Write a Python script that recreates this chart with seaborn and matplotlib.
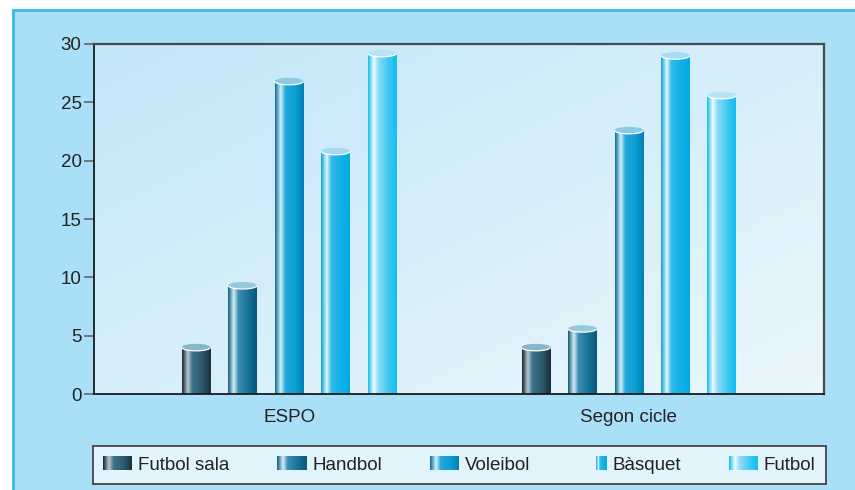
import numpy as np
import pandas as pd
import matplotlib.pyplot as plt
import seaborn as sns
from matplotlib.colors import LinearSegmentedColormap
from matplotlib.patches import Ellipse, Arc, Rectangle, Patch
from matplotlib.legend_handler import HandlerBase

# Dades
grups = ['ESPO', 'Segon cicle']
esports = ['Futbol sala', 'Handbol', 'Voleibol', 'Bàsquet', 'Futbol']
espo = [4.0, 9.3, 26.8, 20.8, 29.2]
segon = [4.0, 5.6, 22.6, 29.0, 25.6]
yticks = [0, 5, 10, 15, 20, 25, 30]

df = pd.DataFrame({
    'grup': np.repeat(grups, len(esports)),
    'esport': esports * len(grups),
    'valor': espo + segon,
})

# gradients (estil del cilindre)
stops = [0.0, 0.2, 0.36, 0.7, 1.0]
gradients = [
    ['#16202a', '#b2cad2', '#3c7189', '#2b596d', '#1b2f3b'],
    ['#0b5a7b', '#d8eef5', '#3a8db0', '#16739a', '#0a5676'],
    ['#0d6a92', '#d0effa', '#22a8da', '#0a9fd5', '#0080b1'],
    ['#08a2da', '#e4f6fd', '#30bbe8', '#10b0e8', '#00abe6'],
    ['#10bbee', '#f0fbff', '#8edbf5', '#40c8f0', '#10bff0'],
]
top_colors = ['#86b6c8', '#98c8dc', '#8ccbe4', '#a6daf0', '#b6e4f6']
cmaps = [LinearSegmentedColormap.from_list('g%d' % i, list(zip(stops, g)))
         for i, g in enumerate(gradients)]


class GradHandler(HandlerBase):
    def __init__(self, cmap, frac=1.0):
        super().__init__()
        self.cmap = cmap
        self.frac = frac

    def create_artists(self, legend, orig_handle, xdescent, ydescent,
                       width, height, fontsize, trans):
        n = 30
        w = width * self.frac
        x0 = -xdescent + width - w
        arts = []
        for k in range(n):
            arts.append(Rectangle((x0 + k * w / n, -ydescent), w / n * 1.08, height,
                                  facecolor=self.cmap((k + 0.5) / n),
                                  edgecolor='none', transform=trans))
        return arts


sns.set_style('white')
plt.rcParams['font.family'] = ['Liberation Sans', 'DejaVu Sans']

fig = plt.figure(figsize=(8.55, 4.9), dpi=100, facecolor='white')
fig.patches.append(Rectangle((13 / 855, -0.1), 1.0, 1.1 - 10 / 490,
                             transform=fig.transFigure, facecolor='#aadff8',
                             edgecolor='#3db8ee', lw=2, zorder=-10))

ax = fig.add_axes([94 / 855, 1 - 394 / 490, 730 / 855, 350 / 490])

sns.barplot(data=df, x='grup', y='valor', hue='esport', order=grups,
            hue_order=esports, width=0.684, gap=0.38, errorbar=None,
            legend=False, ax=ax)

# fons amb degradat
xx, yy = np.meshgrid(np.linspace(0, 1, 200), np.linspace(0, 1, 200))
bg = LinearSegmentedColormap.from_list('bg', ['#c3e6f8', '#eaf7fc'])
ax.imshow((xx + yy) / 2, cmap=bg, extent=[0, 1, 0, 1], transform=ax.transAxes,
          aspect='auto', zorder=0)

row = np.linspace(0, 1, 256).reshape(1, -1)
for i, cont in enumerate(ax.containers):
    for p in cont.patches:
        p.set_visible(False)
        x0, w, h = p.get_x(), p.get_width(), p.get_height()
        ax.imshow(row, cmap=cmaps[i], extent=[x0, x0 + w, 0, h],
                  aspect='auto', zorder=2, interpolation='bilinear')
        ax.add_patch(Ellipse((x0 + w / 2, h), w, 0.6, facecolor=top_colors[i],
                             edgecolor='none', zorder=3))
        ax.add_patch(Arc((x0 + w / 2, h), w, 0.6, theta1=180, theta2=360,
                         color='white', lw=0.9, zorder=3.1))

ax.set_xlim(-0.574, 1.574)
ax.set_ylim(0, 30)
ax.set_yticks(yticks)
ax.set_xlabel('')
ax.set_ylabel('')
ax.tick_params(axis='y', left=True, length=7, width=1.2, color='#666666',
               labelsize=13.5, pad=2, labelcolor='#222222')
ax.tick_params(axis='x', bottom=False, length=0, labelsize=13.5, pad=11,
               labelcolor='#222222')
for s in ['left', 'bottom']:
    ax.spines[s].set_color('#1a1a1a')
    ax.spines[s].set_linewidth(1.3)
for s in ['top', 'right']:
    ax.spines[s].set_color('#4a4a4a')
    ax.spines[s].set_linewidth(1.6)
for s in ax.spines.values():
    s.set_zorder(4)

# llegenda
handles = [Patch(label=e) for e in esports]
hmap = {h: GradHandler(cmaps[i], 0.38 if esports[i] == 'Bàsquet' else 1.0)
        for i, h in enumerate(handles)}
leg = fig.legend(handles=handles, handler_map=hmap, loc='center',
                 bbox_to_anchor=(93 / 855, 1 - 485 / 490, 733 / 855, 40 / 490),
                 mode='expand', ncol=5, fontsize=13.5, handlelength=1.55,
                 handleheight=0.75, handletextpad=0.3, borderpad=0.55,
                 borderaxespad=0, frameon=True, fancybox=False)
frame = leg.get_frame()
frame.set_facecolor('#e1f3fb')
frame.set_edgecolor('#444444')
frame.set_linewidth(1.3)
frame.set_alpha(1)
for t in leg.get_texts():
    t.set_color('#222222')

fig.savefig('out.png', dpi=100, facecolor=fig.get_facecolor())
